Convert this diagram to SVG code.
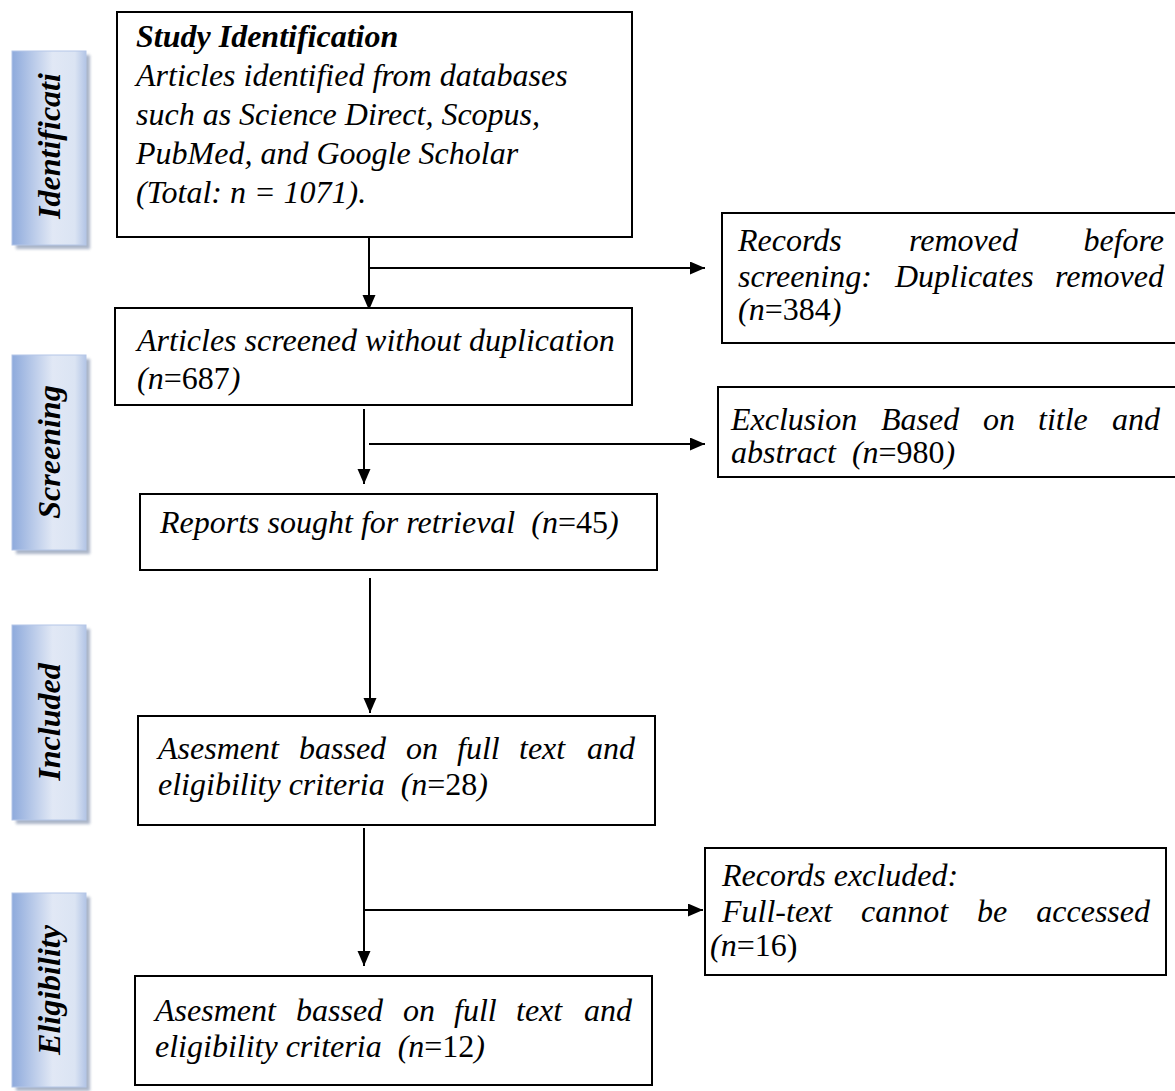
<svg xmlns="http://www.w3.org/2000/svg" width="1175" height="1091" viewBox="0 0 1175 1091">
<style>
  .box { fill: #ffffff; stroke: #000000; stroke-width: 2; }
  .t { font-family: "Liberation Serif", "Times New Roman", serif; font-style: italic; font-size: 32px; fill: #000; }
  .up { font-style: normal; }
  .b { font-weight: bold; }
  .side { font-family: "Liberation Serif", "Times New Roman", serif; font-style: italic; font-weight: bold; font-size: 32px; fill: #000; text-anchor: middle; }
  .lab { fill: url(#sideGrad); stroke: #b4c6e7; stroke-width: 1; }
  .shadow { fill: #8e9bb5; opacity: 0.75; }
  .con { fill: none; stroke: #000; stroke-width: 2; }
</style>
<defs>
  <linearGradient id="sideGrad" x1="0" y1="0" x2="1" y2="0">
    <stop offset="0" stop-color="#8eaadc"/>
    <stop offset="0.55" stop-color="#e1e8f5"/>
    <stop offset="0.85" stop-color="#dbe4f3"/>
    <stop offset="1" stop-color="#b3c5e6"/>
  </linearGradient>
  <filter id="blur" x="-10%" y="-10%" width="120%" height="120%">
    <feGaussianBlur stdDeviation="1.5"/>
  </filter>
  <marker id="arr" markerUnits="userSpaceOnUse" markerWidth="16" markerHeight="14" refX="15" refY="6.5" orient="auto">
    <path d="M0,0 L15,6.5 L0,13 z" fill="#000"/>
  </marker>
</defs>
<rect width="1175" height="1091" fill="#ffffff"/>

<g id="side-identification">
  <rect class="shadow" x="16" y="55" width="74" height="194" filter="url(#blur)"/>
  <rect class="lab" x="12" y="51" width="74" height="194"/>
  <text class="side" transform="translate(60,146) rotate(-90)">Identificati</text>
</g>
<g id="side-screening">
  <rect class="shadow" x="16" y="359" width="74" height="195" filter="url(#blur)"/>
  <rect class="lab" x="12" y="355" width="74" height="195"/>
  <text class="side" transform="translate(60,452) rotate(-90)">Screening</text>
</g>
<g id="side-included">
  <rect class="shadow" x="16" y="629" width="74" height="195" filter="url(#blur)"/>
  <rect class="lab" x="12" y="625" width="74" height="195"/>
  <text class="side" transform="translate(60,722) rotate(-90)">Included</text>
</g>
<g id="side-eligibility">
  <rect class="shadow" x="16" y="897" width="74" height="194" filter="url(#blur)"/>
  <rect class="lab" x="12" y="893" width="74" height="194"/>
  <text class="side" transform="translate(60,990) rotate(-90)">Eligibility</text>
</g>

<g id="connectors">
  <path class="con" d="M369,237 V310" marker-end="url(#arr)"/>
  <path class="con" d="M369,268 H705" marker-end="url(#arr)"/>
  <path class="con" d="M364,409 V484" marker-end="url(#arr)"/>
  <path class="con" d="M369,444 H705" marker-end="url(#arr)"/>
  <path class="con" d="M370,578 V713" marker-end="url(#arr)"/>
  <path class="con" d="M364,828 V966" marker-end="url(#arr)"/>
  <path class="con" d="M364,910 H703" marker-end="url(#arr)"/>
</g>

<g id="n-identification">
  <rect class="box" x="117" y="12" width="515" height="225"/>
  <text class="t b" x="136" y="47">Study Identification</text>
  <text class="t" x="136" y="86">Articles identified from databases</text>
  <text class="t" x="136" y="125">such as Science Direct, Scopus,</text>
  <text class="t" x="136" y="164">PubMed, and Google Scholar</text>
  <text class="t" x="136" y="203">(Total: n = 1071).</text>
</g>

<g id="n-duplicates">
  <rect class="box" x="722" y="213" width="460" height="130"/>
  <text class="t" x="738" y="251">Records</text>
  <text class="t" x="909" y="251">removed</text>
  <text class="t" x="1164" y="251" text-anchor="end">before</text>
  <text class="t" x="738" y="287">screening:</text>
  <text class="t" x="895" y="287">Duplicates</text>
  <text class="t" x="1164" y="287" text-anchor="end">removed</text>
  <text class="t" x="738" y="320">(n<tspan class="up">=384</tspan>)</text>
</g>

<g id="n-screened">
  <rect class="box" x="115" y="308" width="517" height="97"/>
  <text class="t" x="137" y="351">Articles screened without duplication</text>
  <text class="t" x="137" y="389">(n<tspan class="up">=687</tspan>)</text>
</g>

<g id="n-exclusion">
  <rect class="box" x="718" y="387" width="464" height="90"/>
  <text class="t" x="731" y="430">Exclusion</text>
  <text class="t" x="881" y="430">Based</text>
  <text class="t" x="983" y="430">on</text>
  <text class="t" x="1038" y="430">title</text>
  <text class="t" x="1160" y="430" text-anchor="end">and</text>
  <text class="t" x="731" y="463" xml:space="preserve">abstract  (n<tspan class="up">=980</tspan>)</text>
</g>

<g id="n-reports">
  <rect class="box" x="140" y="494" width="517" height="76"/>
  <text class="t" x="160" y="533" xml:space="preserve">Reports sought for retrieval  (n<tspan class="up">=45</tspan>)</text>
</g>

<g id="n-assessment1">
  <rect class="box" x="138" y="716" width="517" height="109"/>
  <text class="t" x="158" y="759">Asesment</text>
  <text class="t" x="299" y="759">bassed</text>
  <text class="t" x="406" y="759">on</text>
  <text class="t" x="457" y="759">full</text>
  <text class="t" x="519" y="759">text</text>
  <text class="t" x="635" y="759" text-anchor="end">and</text>
  <text class="t" x="158" y="795" xml:space="preserve">eligibility criteria  (n<tspan class="up">=28</tspan>)</text>
</g>

<g id="n-excluded">
  <rect class="box" x="705" y="848" width="461" height="127"/>
  <text class="t" x="722" y="886">Records excluded:</text>
  <text class="t" x="722" y="922">Full-text</text>
  <text class="t" x="861" y="922">cannot</text>
  <text class="t" x="977" y="922">be</text>
  <text class="t" x="1150" y="922" text-anchor="end">accessed</text>
  <text class="t" x="710" y="956">(n<tspan class="up">=16)</tspan></text>
</g>

<g id="n-assessment2">
  <rect class="box" x="135" y="976" width="517" height="109"/>
  <text class="t" x="155" y="1021">Asesment</text>
  <text class="t" x="296" y="1021">bassed</text>
  <text class="t" x="403" y="1021">on</text>
  <text class="t" x="454" y="1021">full</text>
  <text class="t" x="516" y="1021">text</text>
  <text class="t" x="632" y="1021" text-anchor="end">and</text>
  <text class="t" x="155" y="1057" xml:space="preserve">eligibility criteria  (n<tspan class="up">=12</tspan>)</text>
</g>
</svg>
